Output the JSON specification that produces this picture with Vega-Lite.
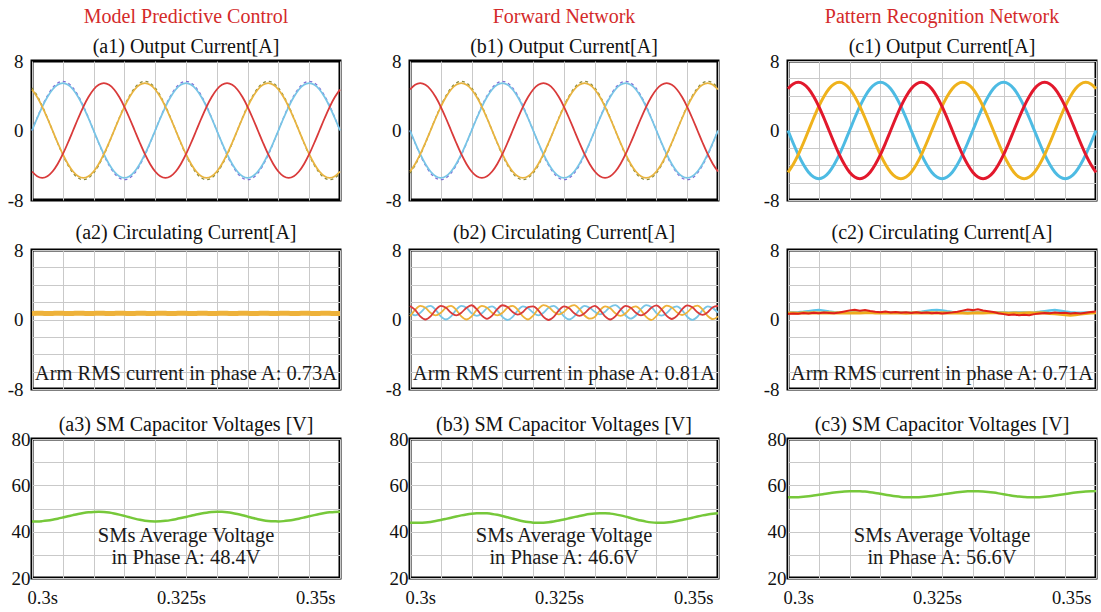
{
"$schema": "https://vega.github.io/schema/vega-lite/v6.json",
"background": "white",
"columns": 3,
"spacing": {"row": 50, "column": 70},
"bounds": "flush",
"align": "each",
"datasets": {
"d": [
{"t":0.3,"aB":0,"aR":-4.72,"aY":4.72,"bR":4.72,"bY":-4.72,"bB":0,"cR":4.81,"cY":-4.81,"cB":0,"a2R":0.73,"a2B":0.68,"a2Y":0.70,"b2R":1.56,"b2B":0.78,"b2Y":0.36,"c2R":0.62,"c2B":0.80,"c2Y":0.74,"va":44.42,"vb":43.82,"vc":54.81},
{"t":0.300833,"aB":1.41,"aR":-5.26,"aY":3.85,"bR":5.26,"bY":-3.85,"bB":-1.41,"cR":5.36,"cY":-3.92,"cB":-1.44,"a2R":0.71,"a2B":0.69,"a2Y":0.72,"b2R":1.11,"b2B":0.48,"b2Y":1.11,"c2R":0.70,"c2B":0.82,"c2Y":0.76,"va":44.42,"vb":43.82,"vc":54.81},
{"t":0.301667,"aB":2.73,"aR":-5.45,"aY":2.73,"bR":5.45,"bY":-2.73,"bB":-2.73,"cR":5.55,"cY":-2.78,"cB":-2.78,"a2R":0.72,"a2B":0.67,"a2Y":0.71,"b2R":0.36,"b2B":0.78,"b2Y":1.56,"c2R":0.66,"c2B":0.84,"c2Y":0.73,"va":44.55,"vb":43.82,"vc":54.90},
{"t":0.3025,"aB":3.85,"aR":-5.26,"aY":1.41,"bR":5.26,"bY":-1.41,"bB":-3.85,"cR":5.36,"cY":-1.44,"cB":-3.92,"a2R":0.74,"a2B":0.68,"a2Y":0.69,"b2R":0.00,"b2B":1.35,"b2Y":1.35,"c2R":0.74,"c2B":0.88,"c2Y":0.77,"va":44.80,"vb":43.95,"vc":55.06},
{"t":0.303333,"aB":4.72,"aR":-4.72,"aY":0,"bR":4.72,"bY":0,"bB":-4.72,"cR":4.81,"cY":0,"cB":-4.81,"a2R":0.72,"a2B":0.70,"a2Y":0.70,"b2R":0.36,"b2B":1.56,"b2Y":0.78,"c2R":0.70,"c2B":0.96,"c2Y":0.75,"va":45.16,"vb":44.20,"vc":55.29},
{"t":0.304167,"aB":5.26,"aR":-3.85,"aY":-1.41,"bR":3.85,"bY":1.41,"bB":-5.26,"cR":3.92,"cY":1.44,"cB":-5.36,"a2R":0.70,"a2B":0.68,"a2Y":0.73,"b2R":1.11,"b2B":1.11,"b2Y":0.48,"c2R":0.78,"c2B":1.05,"c2Y":0.78,"va":45.61,"vb":44.56,"vc":55.58},
{"t":0.305,"aB":5.45,"aR":-2.73,"aY":-2.73,"bR":2.73,"bY":2.73,"bB":-5.45,"cR":2.78,"cY":2.78,"cB":-5.55,"a2R":0.73,"a2B":0.67,"a2Y":0.71,"b2R":1.56,"b2B":0.36,"b2Y":0.78,"c2R":0.72,"c2B":1.08,"c2Y":0.74,"va":46.11,"vb":45.01,"vc":55.90},
{"t":0.305833,"aB":5.26,"aR":-1.41,"aY":-3.85,"bR":1.41,"bY":3.85,"bB":-5.26,"cR":1.44,"cY":3.92,"cB":-5.36,"a2R":0.72,"a2B":0.69,"a2Y":0.68,"b2R":1.35,"b2B":0.00,"b2Y":1.35,"c2R":0.80,"c2B":1.02,"c2Y":0.76,"va":46.63,"vb":45.51,"vc":56.23},
{"t":0.306667,"aB":4.72,"aR":0,"aY":-4.72,"bR":0,"bY":4.72,"bB":-4.72,"cR":0,"cY":4.81,"cB":-4.81,"a2R":0.73,"a2B":0.68,"a2Y":0.70,"b2R":0.78,"b2B":0.36,"b2Y":1.56,"c2R":0.76,"c2B":0.92,"c2Y":0.79,"va":47.15,"vb":46.03,"vc":56.57},
{"t":0.3075,"aB":3.85,"aR":1.41,"aY":-5.26,"bR":-1.41,"bY":5.26,"bB":-3.85,"cR":-1.44,"cY":5.36,"cB":-3.92,"a2R":0.71,"a2B":0.69,"a2Y":0.72,"b2R":0.48,"b2B":1.11,"b2Y":1.11,"c2R":0.71,"c2B":0.84,"c2Y":0.75,"va":47.63,"vb":46.55,"vc":56.88},
{"t":0.308333,"aB":2.73,"aR":2.73,"aY":-5.45,"bR":-2.73,"bY":5.45,"bB":-2.73,"cR":-2.78,"cY":5.55,"cB":-2.78,"a2R":0.72,"a2B":0.67,"a2Y":0.71,"b2R":0.78,"b2B":1.56,"b2Y":0.36,"c2R":0.80,"c2B":0.80,"c2Y":0.77,"va":48.03,"vb":47.03,"vc":57.13},
{"t":0.309167,"aB":1.41,"aR":3.85,"aY":-5.26,"bR":-3.85,"bY":5.26,"bB":-1.41,"cR":-3.92,"cY":5.36,"cB":-1.44,"a2R":0.74,"a2B":0.68,"a2Y":0.69,"b2R":1.35,"b2B":1.35,"b2Y":0.00,"c2R":0.92,"c2B":0.78,"c2Y":0.74,"va":48.34,"vb":47.43,"vc":57.33},
{"t":0.31,"aB":0,"aR":4.72,"aY":-4.72,"bR":-4.72,"bY":4.72,"bB":0,"cR":-4.81,"cY":4.81,"cB":0,"a2R":0.72,"a2B":0.70,"a2Y":0.70,"b2R":1.64,"b2B":0.72,"b2Y":0.36,"c2R":1.05,"c2B":0.80,"c2Y":0.76,"va":48.53,"vb":47.74,"vc":57.46},
{"t":0.310833,"aB":-1.41,"aR":5.26,"aY":-3.85,"bR":-5.26,"bY":3.85,"bB":1.41,"cR":-5.36,"cY":3.92,"cB":1.44,"a2R":0.70,"a2B":0.68,"a2Y":0.73,"b2R":1.19,"b2B":0.42,"b2Y":1.11,"c2R":1.12,"c2B":0.82,"c2Y":0.78,"va":48.60,"vb":47.93,"vc":57.50},
{"t":0.311667,"aB":-2.73,"aR":5.45,"aY":-2.73,"bR":-5.45,"bY":2.73,"bB":2.73,"cR":-5.55,"cY":2.78,"cB":2.78,"a2R":0.73,"a2B":0.67,"a2Y":0.71,"b2R":0.44,"b2B":0.72,"b2Y":1.56,"c2R":1.02,"c2B":0.80,"c2Y":0.75,"va":48.51,"vb":48.00,"vc":57.44},
{"t":0.3125,"aB":-3.85,"aR":5.26,"aY":-1.41,"bR":-5.26,"bY":1.41,"bB":3.85,"cR":-5.36,"cY":1.44,"cB":3.92,"a2R":0.72,"a2B":0.69,"a2Y":0.68,"b2R":0.08,"b2B":1.29,"b2Y":1.35,"c2R":1.10,"c2B":0.78,"c2Y":0.77,"va":48.27,"vb":47.91,"vc":57.29},
{"t":0.313333,"aB":-4.72,"aR":4.72,"aY":0,"bR":-4.72,"bY":0,"bB":4.72,"cR":-4.81,"cY":0,"cB":4.81,"a2R":0.73,"a2B":0.68,"a2Y":0.70,"b2R":0.44,"b2B":1.50,"b2Y":0.78,"c2R":0.98,"c2B":0.80,"c2Y":0.80,"va":47.87,"vb":47.67,"vc":57.03},
{"t":0.314167,"aB":-5.26,"aR":3.85,"aY":1.41,"bR":-3.85,"bY":-1.41,"bB":5.26,"cR":-3.92,"cY":-1.44,"cB":5.36,"a2R":0.71,"a2B":0.69,"a2Y":0.72,"b2R":1.19,"b2B":1.05,"b2Y":0.48,"c2R":0.90,"c2B":0.82,"c2Y":0.76,"va":47.37,"vb":47.27,"vc":56.71},
{"t":0.315,"aB":-5.45,"aR":2.73,"aY":2.73,"bR":-2.73,"bY":-2.73,"bB":5.45,"cR":-2.78,"cY":-2.78,"cB":5.55,"a2R":0.72,"a2B":0.67,"a2Y":0.71,"b2R":1.64,"b2B":0.30,"b2Y":0.78,"c2R":0.84,"c2B":0.80,"c2Y":0.74,"va":46.80,"vb":46.77,"vc":56.34},
{"t":0.315833,"aB":-5.26,"aR":1.41,"aY":3.85,"bR":-1.41,"bY":-3.85,"bB":5.26,"cR":-1.44,"cY":-3.92,"cB":5.36,"a2R":0.74,"a2B":0.68,"a2Y":0.69,"b2R":1.43,"b2B":-0.06,"b2Y":1.35,"c2R":0.92,"c2B":0.78,"c2Y":0.77,"va":46.20,"vb":46.20,"vc":55.96},
{"t":0.316667,"aB":-4.72,"aR":0,"aY":4.72,"bR":0,"bY":-4.72,"bB":4.72,"cR":0,"cY":-4.81,"cB":4.81,"a2R":0.72,"a2B":0.70,"a2Y":0.70,"b2R":0.86,"b2B":0.30,"b2Y":1.56,"c2R":0.80,"c2B":0.80,"c2Y":0.75,"va":45.63,"vb":45.60,"vc":55.59},
{"t":0.3175,"aB":-3.85,"aR":-1.41,"aY":5.26,"bR":1.41,"bY":-5.26,"bB":3.85,"cR":1.44,"cY":-5.36,"cB":3.92,"a2R":0.70,"a2B":0.68,"a2Y":0.73,"b2R":0.56,"b2B":1.05,"b2Y":1.11,"c2R":0.86,"c2B":0.82,"c2Y":0.78,"va":45.13,"vb":45.03,"vc":55.27},
{"t":0.318333,"aB":-2.73,"aR":-2.73,"aY":5.45,"bR":2.73,"bY":-5.45,"bB":2.73,"cR":2.78,"cY":-5.55,"cB":2.78,"a2R":0.73,"a2B":0.67,"a2Y":0.71,"b2R":0.86,"b2B":1.50,"b2Y":0.36,"c2R":0.78,"c2B":0.80,"c2Y":0.76,"va":44.73,"vb":44.53,"vc":55.01},
{"t":0.319167,"aB":-1.41,"aR":-3.85,"aY":5.26,"bR":3.85,"bY":-5.26,"bB":1.41,"cR":3.92,"cY":-5.36,"cB":1.44,"a2R":0.72,"a2B":0.69,"a2Y":0.68,"b2R":1.43,"b2B":1.29,"b2Y":0.00,"c2R":0.84,"c2B":0.78,"c2Y":0.73,"va":44.49,"vb":44.13,"vc":54.86},
{"t":0.32,"aB":0,"aR":-4.72,"aY":4.72,"bR":4.72,"bY":-4.72,"bB":0,"cR":4.81,"cY":-4.81,"cB":0,"a2R":0.73,"a2B":0.68,"a2Y":0.70,"b2R":1.50,"b2B":0.78,"b2Y":0.46,"c2R":0.76,"c2B":0.80,"c2Y":0.75,"va":44.42,"vb":43.89,"vc":54.81},
{"t":0.320833,"aB":1.41,"aR":-5.26,"aY":3.85,"bR":5.26,"bY":-3.85,"bB":-1.41,"cR":5.36,"cY":-3.92,"cB":-1.44,"a2R":0.71,"a2B":0.69,"a2Y":0.72,"b2R":1.05,"b2B":0.48,"b2Y":1.21,"c2R":0.82,"c2B":0.84,"c2Y":0.77,"va":44.49,"vb":43.82,"vc":54.86},
{"t":0.321667,"aB":2.73,"aR":-5.45,"aY":2.73,"bR":5.45,"bY":-2.73,"bB":-2.73,"cR":5.55,"cY":-2.78,"cB":-2.78,"a2R":0.72,"a2B":0.67,"a2Y":0.71,"b2R":0.30,"b2B":0.78,"b2Y":1.66,"c2R":0.74,"c2B":0.90,"c2Y":0.74,"va":44.68,"vb":43.89,"vc":54.98},
{"t":0.3225,"aB":3.85,"aR":-5.26,"aY":1.41,"bR":5.26,"bY":-1.41,"bB":-3.85,"cR":5.36,"cY":-1.44,"cB":-3.92,"a2R":0.74,"a2B":0.68,"a2Y":0.69,"b2R":-0.06,"b2B":1.35,"b2Y":1.45,"c2R":0.80,"c2B":0.98,"c2Y":0.76,"va":44.98,"vb":44.08,"vc":55.17},
{"t":0.323333,"aB":4.72,"aR":-4.72,"aY":0,"bR":4.72,"bY":0,"bB":-4.72,"cR":4.81,"cY":0,"cB":-4.81,"a2R":0.72,"a2B":0.70,"a2Y":0.70,"b2R":0.30,"b2B":1.56,"b2Y":0.88,"c2R":0.72,"c2B":1.06,"c2Y":0.79,"va":45.39,"vb":44.38,"vc":55.44},
{"t":0.324167,"aB":5.26,"aR":-3.85,"aY":-1.41,"bR":3.85,"bY":1.41,"bB":-5.26,"cR":3.92,"cY":1.44,"cB":-5.36,"a2R":0.70,"a2B":0.68,"a2Y":0.73,"b2R":1.05,"b2B":1.11,"b2Y":0.58,"c2R":0.78,"c2B":1.10,"c2Y":0.75,"va":45.86,"vb":44.79,"vc":55.74},
{"t":0.325,"aB":5.45,"aR":-2.73,"aY":-2.73,"bR":2.73,"bY":2.73,"bB":-5.45,"cR":2.78,"cY":2.78,"cB":-5.55,"a2R":0.73,"a2B":0.67,"a2Y":0.71,"b2R":1.50,"b2B":0.36,"b2Y":0.88,"c2R":0.70,"c2B":1.04,"c2Y":0.77,"va":46.37,"vb":45.26,"vc":56.07},
{"t":0.325833,"aB":5.26,"aR":-1.41,"aY":-3.85,"bR":1.41,"bY":3.85,"bB":-5.26,"cR":1.44,"cY":3.92,"cB":-5.36,"a2R":0.72,"a2B":0.69,"a2Y":0.68,"b2R":1.29,"b2B":0.00,"b2Y":1.45,"c2R":0.76,"c2B":0.94,"c2Y":0.74,"va":46.89,"vb":45.77,"vc":56.40},
{"t":0.326667,"aB":4.72,"aR":0,"aY":-4.72,"bR":0,"bY":4.72,"bB":-4.72,"cR":0,"cY":4.81,"cB":-4.81,"a2R":0.73,"a2B":0.68,"a2Y":0.70,"b2R":0.72,"b2B":0.36,"b2Y":1.66,"c2R":0.82,"c2B":0.86,"c2Y":0.76,"va":47.39,"vb":46.29,"vc":56.72},
{"t":0.3275,"aB":3.85,"aR":1.41,"aY":-5.26,"bR":-1.41,"bY":5.26,"bB":-3.85,"cR":-1.44,"cY":5.36,"cB":-3.92,"a2R":0.71,"a2B":0.69,"a2Y":0.72,"b2R":0.42,"b2B":1.11,"b2Y":1.21,"c2R":0.90,"c2B":0.82,"c2Y":0.78,"va":47.83,"vb":46.79,"vc":57.01},
{"t":0.328333,"aB":2.73,"aR":2.73,"aY":-5.45,"bR":-2.73,"bY":5.45,"bB":-2.73,"cR":-2.78,"cY":5.55,"cB":-2.78,"a2R":0.72,"a2B":0.67,"a2Y":0.71,"b2R":0.72,"b2B":1.56,"b2Y":0.46,"c2R":1.02,"c2B":0.80,"c2Y":0.75,"va":48.19,"vb":47.23,"vc":57.24},
{"t":0.329167,"aB":1.41,"aR":3.85,"aY":-5.26,"bR":-3.85,"bY":5.26,"bB":-1.41,"cR":-3.92,"cY":5.36,"cB":-1.44,"a2R":0.74,"a2B":0.68,"a2Y":0.69,"b2R":1.29,"b2B":1.35,"b2Y":0.10,"c2R":1.15,"c2B":0.78,"c2Y":0.73,"va":48.44,"vb":47.59,"vc":57.40},
{"t":0.33,"aB":0,"aR":4.72,"aY":-4.72,"bR":-4.72,"bY":4.72,"bB":0,"cR":-4.81,"cY":4.81,"cB":0,"a2R":0.72,"a2B":0.70,"a2Y":0.70,"b2R":1.56,"b2B":0.88,"b2Y":0.30,"c2R":1.08,"c2B":0.80,"c2Y":0.76,"va":48.57,"vb":47.84,"vc":57.48},
{"t":0.330833,"aB":-1.41,"aR":5.26,"aY":-3.85,"bR":-5.26,"bY":3.85,"bB":1.41,"cR":-5.36,"cY":3.92,"cB":1.44,"a2R":0.70,"a2B":0.68,"a2Y":0.73,"b2R":1.11,"b2B":0.58,"b2Y":1.05,"c2R":1.18,"c2B":0.82,"c2Y":0.78,"va":48.56,"vb":47.97,"vc":57.47},
{"t":0.331667,"aB":-2.73,"aR":5.45,"aY":-2.73,"bR":-5.45,"bY":2.73,"bB":2.73,"cR":-5.55,"cY":2.78,"cB":2.78,"a2R":0.73,"a2B":0.67,"a2Y":0.71,"b2R":0.36,"b2B":0.88,"b2Y":1.50,"c2R":1.04,"c2B":0.80,"c2Y":0.75,"va":48.39,"vb":47.96,"vc":57.37},
{"t":0.3325,"aB":-3.85,"aR":5.26,"aY":-1.41,"bR":-5.26,"bY":1.41,"bB":3.85,"cR":-5.36,"cY":1.44,"cB":3.92,"a2R":0.72,"a2B":0.69,"a2Y":0.68,"b2R":0.00,"b2B":1.45,"b2Y":1.29,"c2R":0.95,"c2B":0.78,"c2Y":0.77,"va":48.07,"vb":47.79,"vc":57.16},
{"t":0.333333,"aB":-4.72,"aR":4.72,"aY":0,"bR":-4.72,"bY":0,"bB":4.72,"cR":-4.81,"cY":0,"cB":4.81,"a2R":0.73,"a2B":0.68,"a2Y":0.70,"b2R":0.36,"b2B":1.66,"b2Y":0.72,"c2R":0.86,"c2B":0.80,"c2Y":0.80,"va":47.62,"vb":47.47,"vc":56.87},
{"t":0.334167,"aB":-5.26,"aR":3.85,"aY":1.41,"bR":-3.85,"bY":-1.41,"bB":5.26,"cR":-3.92,"cY":-1.44,"cB":5.36,"a2R":0.71,"a2B":0.69,"a2Y":0.72,"b2R":1.11,"b2B":1.21,"b2Y":0.42,"c2R":0.72,"c2B":0.82,"c2Y":0.76,"va":47.09,"vb":47.02,"vc":56.53},
{"t":0.335,"aB":-5.45,"aR":2.73,"aY":2.73,"bR":-2.73,"bY":-2.73,"bB":5.45,"cR":-2.78,"cY":-2.78,"cB":5.55,"a2R":0.72,"a2B":0.67,"a2Y":0.71,"b2R":1.56,"b2B":0.46,"b2Y":0.72,"c2R":0.62,"c2B":0.80,"c2Y":0.74,"va":46.50,"vb":46.49,"vc":56.15},
{"t":0.335833,"aB":-5.26,"aR":1.41,"aY":3.85,"bR":-1.41,"bY":-3.85,"bB":5.26,"cR":-1.44,"cY":-3.92,"cB":5.36,"a2R":0.74,"a2B":0.68,"a2Y":0.69,"b2R":1.35,"b2B":0.10,"b2Y":1.29,"c2R":0.52,"c2B":0.78,"c2Y":0.72,"va":45.92,"vb":45.90,"vc":55.78},
{"t":0.336667,"aB":-4.72,"aR":0,"aY":4.72,"bR":0,"bY":-4.72,"bB":4.72,"cR":0,"cY":-4.81,"cB":4.81,"a2R":0.72,"a2B":0.70,"a2Y":0.70,"b2R":0.78,"b2B":0.46,"b2Y":1.50,"c2R":0.58,"c2B":0.80,"c2Y":0.75,"va":45.38,"vb":45.32,"vc":55.43},
{"t":0.3375,"aB":-3.85,"aR":-1.41,"aY":5.26,"bR":1.41,"bY":-5.26,"bB":3.85,"cR":1.44,"cY":-5.36,"cB":3.92,"a2R":0.70,"a2B":0.68,"a2Y":0.73,"b2R":0.48,"b2B":1.21,"b2Y":1.05,"c2R":0.48,"c2B":0.82,"c2Y":0.73,"va":44.93,"vb":44.78,"vc":55.14},
{"t":0.338333,"aB":-2.73,"aR":-2.73,"aY":5.45,"bR":2.73,"bY":-5.45,"bB":2.73,"cR":2.78,"cY":-5.55,"cB":2.78,"a2R":0.73,"a2B":0.67,"a2Y":0.71,"b2R":0.78,"b2B":1.66,"b2Y":0.30,"c2R":0.56,"c2B":0.80,"c2Y":0.76,"va":44.61,"vb":44.33,"vc":54.94},
{"t":0.339167,"aB":-1.41,"aR":-3.85,"aY":5.26,"bR":3.85,"bY":-5.26,"bB":1.41,"cR":3.92,"cY":-5.36,"cB":1.44,"a2R":0.72,"a2B":0.69,"a2Y":0.68,"b2R":1.35,"b2B":1.45,"b2Y":-0.06,"c2R":0.50,"c2B":0.78,"c2Y":0.78,"va":44.45,"vb":44.01,"vc":54.83},
{"t":0.34,"aB":0,"aR":-4.72,"aY":4.72,"bR":4.72,"bY":-4.72,"bB":0,"cR":4.81,"cY":-4.81,"cB":0,"a2R":0.73,"a2B":0.68,"a2Y":0.70,"b2R":1.62,"b2B":0.74,"b2Y":0.40,"c2R":0.62,"c2B":0.82,"c2Y":0.75,"va":44.44,"vb":43.85,"vc":54.83},
{"t":0.340833,"aB":1.41,"aR":-5.26,"aY":3.85,"bR":5.26,"bY":-3.85,"bB":-1.41,"cR":5.36,"cY":-3.92,"cB":-1.44,"a2R":0.71,"a2B":0.69,"a2Y":0.72,"b2R":1.17,"b2B":0.44,"b2Y":1.15,"c2R":0.70,"c2B":0.88,"c2Y":0.77,"va":44.55,"vb":43.84,"vc":54.90},
{"t":0.341667,"aB":2.73,"aR":-5.45,"aY":2.73,"bR":5.45,"bY":-2.73,"bB":-2.73,"cR":5.55,"cY":-2.78,"cB":-2.78,"a2R":0.72,"a2B":0.67,"a2Y":0.71,"b2R":0.42,"b2B":0.74,"b2Y":1.60,"c2R":0.76,"c2B":0.96,"c2Y":0.74,"va":44.80,"vb":43.95,"vc":55.06},
{"t":0.3425,"aB":3.85,"aR":-5.26,"aY":1.41,"bR":5.26,"bY":-1.41,"bB":-3.85,"cR":5.36,"cY":-1.44,"cB":-3.92,"a2R":0.74,"a2B":0.68,"a2Y":0.69,"b2R":0.06,"b2B":1.31,"b2Y":1.39,"c2R":0.72,"c2B":1.04,"c2Y":0.70,"va":45.16,"vb":44.20,"vc":55.29},
{"t":0.343333,"aB":4.72,"aR":-4.72,"aY":0,"bR":4.72,"bY":0,"bB":-4.72,"cR":4.81,"cY":0,"cB":-4.81,"a2R":0.72,"a2B":0.70,"a2Y":0.70,"b2R":0.42,"b2B":1.52,"b2Y":0.82,"c2R":0.80,"c2B":1.08,"c2Y":0.66,"va":45.61,"vb":44.56,"vc":55.58},
{"t":0.344167,"aB":5.26,"aR":-3.85,"aY":-1.41,"bR":3.85,"bY":1.41,"bB":-5.26,"cR":3.92,"cY":1.44,"cB":-5.36,"a2R":0.70,"a2B":0.68,"a2Y":0.73,"b2R":1.17,"b2B":1.07,"b2Y":0.52,"c2R":0.74,"c2B":1.02,"c2Y":0.60,"va":46.11,"vb":45.01,"vc":55.90},
{"t":0.345,"aB":5.45,"aR":-2.73,"aY":-2.73,"bR":2.73,"bY":2.73,"bB":-5.45,"cR":2.78,"cY":2.78,"cB":-5.55,"a2R":0.73,"a2B":0.67,"a2Y":0.71,"b2R":1.62,"b2B":0.32,"b2Y":0.82,"c2R":0.78,"c2B":0.92,"c2Y":0.54,"va":46.63,"vb":45.51,"vc":56.23},
{"t":0.345833,"aB":5.26,"aR":-1.41,"aY":-3.85,"bR":1.41,"bY":3.85,"bB":-5.26,"cR":1.44,"cY":3.92,"cB":-5.36,"a2R":0.72,"a2B":0.69,"a2Y":0.68,"b2R":1.41,"b2B":-0.04,"b2Y":1.39,"c2R":0.68,"c2B":0.84,"c2Y":0.50,"va":47.15,"vb":46.03,"vc":56.57},
{"t":0.346667,"aB":4.72,"aR":0,"aY":-4.72,"bR":0,"bY":4.72,"bB":-4.72,"cR":0,"cY":4.81,"cB":-4.81,"a2R":0.73,"a2B":0.68,"a2Y":0.70,"b2R":0.84,"b2B":0.32,"b2Y":1.60,"c2R":0.74,"c2B":0.80,"c2Y":0.54,"va":47.63,"vb":46.55,"vc":56.88},
{"t":0.3475,"aB":3.85,"aR":1.41,"aY":-5.26,"bR":-1.41,"bY":5.26,"bB":-3.85,"cR":-1.44,"cY":5.36,"cB":-3.92,"a2R":0.71,"a2B":0.69,"a2Y":0.72,"b2R":0.54,"b2B":1.07,"b2Y":1.15,"c2R":0.70,"c2B":0.78,"c2Y":0.62,"va":48.03,"vb":47.03,"vc":57.13},
{"t":0.348333,"aB":2.73,"aR":2.73,"aY":-5.45,"bR":-2.73,"bY":5.45,"bB":-2.73,"cR":-2.78,"cY":5.55,"cB":-2.78,"a2R":0.72,"a2B":0.67,"a2Y":0.71,"b2R":0.84,"b2B":1.52,"b2Y":0.40,"c2R":0.78,"c2B":0.80,"c2Y":0.70,"va":48.34,"vb":47.43,"vc":57.33},
{"t":0.349167,"aB":1.41,"aR":3.85,"aY":-5.26,"bR":-3.85,"bY":5.26,"bB":-1.41,"cR":-3.92,"cY":5.36,"cB":-1.44,"a2R":0.74,"a2B":0.68,"a2Y":0.69,"b2R":1.41,"b2B":1.31,"b2Y":0.04,"c2R":0.86,"c2B":0.82,"c2Y":0.75,"va":48.53,"vb":47.74,"vc":57.46},
{"t":0.35,"aB":0,"aR":4.72,"aY":-4.72,"bR":-4.72,"bY":4.72,"bB":0,"cR":-4.81,"cY":4.81,"cB":0,"a2R":0.72,"a2B":0.70,"a2Y":0.70,"b2R":1.56,"b2B":0.78,"b2Y":0.36,"c2R":0.92,"c2B":0.80,"c2Y":0.78,"va":48.60,"vb":47.93,"vc":57.50}
],
"ann": [
{"p":"a2","t":0.325,"v":-6.3,"s":"Arm RMS current in phase A: 0.73A"},
{"p":"b2","t":0.325,"v":-6.3,"s":"Arm RMS current in phase A: 0.81A"},
{"p":"c2","t":0.325,"v":-6.3,"s":"Arm RMS current in phase A: 0.71A"},
{"p":"a3","t":0.325,"v":38,"s":"SMs Average Voltage"},
{"p":"a3","t":0.325,"v":28.6,"s":"in Phase A: 48.4V"},
{"p":"b3","t":0.325,"v":38,"s":"SMs Average Voltage"},
{"p":"b3","t":0.325,"v":28.6,"s":"in Phase A: 46.6V"},
{"p":"c3","t":0.325,"v":38,"s":"SMs Average Voltage"},
{"p":"c3","t":0.325,"v":28.6,"s":"in Phase A: 56.6V"}
]
},
"concat": [
{"width":308,"height":139,"data":{"name":"d"},
 "title":{"text":"Model Predictive Control","subtitle":"(a1) Output Current[A]","color":"#d42a2a","subtitlePadding":10,"offset":-4.5},
 "encoding":{"x":{"field":"t","type":"quantitative","scale":{"domain":[0.3,0.35],"nice":false,"zero":false},"axis":{"values":[0.3,0.305,0.31,0.315,0.32,0.325,0.33,0.335,0.34,0.345,0.35],"labels":false,"title":null}}},
 "resolve":{"scale":{"y":"independent"}},
 "layer":[
  {"layer":[
   {"mark":{"type":"line","color":"#7f6fd6","strokeWidth":1.3,"strokeDash":[3,3],"interpolate":"monotone"},"encoding":{"y":{"field":"aB","type":"quantitative","scale":{"domain":[-7.7,7.7],"nice":false,"zero":false},"axis":null}}},
   {"mark":{"type":"line","color":"#8c8a3a","strokeWidth":1.3,"strokeDash":[3,3],"interpolate":"monotone"},"encoding":{"y":{"field":"aY","type":"quantitative","scale":{"domain":[-7.7,7.7],"nice":false,"zero":false},"axis":null}}}
  ]},
  {"layer":[
   {"mark":{"type":"line","color":"#78c5e6","strokeWidth":1.8,"interpolate":"monotone"},"encoding":{"y":{"field":"aB","type":"quantitative","scale":{"domain":[-8,8],"nice":false,"zero":false},"axis":{"values":[-8,-6,-4,-2,0,2,4,6,8],"labelExpr":"datum.value==8?'8':datum.value==0?'0':datum.value==-8?'-8':''","labelPadding":9,"title":null}}}},
   {"mark":{"type":"line","color":"#e8b440","strokeWidth":1.8,"interpolate":"monotone"},"encoding":{"y":{"field":"aY","type":"quantitative","scale":{"domain":[-8,8],"nice":false,"zero":false},"axis":{"values":[-8,-6,-4,-2,0,2,4,6,8],"labelExpr":"datum.value==8?'8':datum.value==0?'0':datum.value==-8?'-8':''","labelPadding":9,"title":null}}}},
   {"mark":{"type":"line","color":"#d93a3a","strokeWidth":1.8,"interpolate":"monotone"},"encoding":{"y":{"field":"aR","type":"quantitative","scale":{"domain":[-8,8],"nice":false,"zero":false},"axis":{"values":[-8,-6,-4,-2,0,2,4,6,8],"labelExpr":"datum.value==8?'8':datum.value==0?'0':datum.value==-8?'-8':''","labelPadding":9,"title":null}}}}
  ]}
 ]},
{"width":308,"height":139,"data":{"name":"d"},
 "title":{"text":"Forward Network","subtitle":"(b1) Output Current[A]","color":"#d42a2a","subtitlePadding":10,"offset":-4.5},
 "encoding":{"x":{"field":"t","type":"quantitative","scale":{"domain":[0.3,0.35],"nice":false,"zero":false},"axis":{"values":[0.3,0.305,0.31,0.315,0.32,0.325,0.33,0.335,0.34,0.345,0.35],"labels":false,"title":null}}},
 "resolve":{"scale":{"y":"independent"}},
 "layer":[
  {"layer":[
   {"mark":{"type":"line","color":"#7f6fd6","strokeWidth":1.3,"strokeDash":[3,3],"interpolate":"monotone"},"encoding":{"y":{"field":"bB","type":"quantitative","scale":{"domain":[-7.7,7.7],"nice":false,"zero":false},"axis":null}}},
   {"mark":{"type":"line","color":"#8c8a3a","strokeWidth":1.3,"strokeDash":[3,3],"interpolate":"monotone"},"encoding":{"y":{"field":"bY","type":"quantitative","scale":{"domain":[-7.7,7.7],"nice":false,"zero":false},"axis":null}}}
  ]},
  {"layer":[
   {"mark":{"type":"line","color":"#78c5e6","strokeWidth":1.8,"interpolate":"monotone"},"encoding":{"y":{"field":"bB","type":"quantitative","scale":{"domain":[-8,8],"nice":false,"zero":false},"axis":{"values":[-8,-6,-4,-2,0,2,4,6,8],"labelExpr":"datum.value==8?'8':datum.value==0?'0':datum.value==-8?'-8':''","labelPadding":9,"title":null}}}},
   {"mark":{"type":"line","color":"#e8b440","strokeWidth":1.8,"interpolate":"monotone"},"encoding":{"y":{"field":"bY","type":"quantitative","scale":{"domain":[-8,8],"nice":false,"zero":false},"axis":{"values":[-8,-6,-4,-2,0,2,4,6,8],"labelExpr":"datum.value==8?'8':datum.value==0?'0':datum.value==-8?'-8':''","labelPadding":9,"title":null}}}},
   {"mark":{"type":"line","color":"#d93a3a","strokeWidth":1.8,"interpolate":"monotone"},"encoding":{"y":{"field":"bR","type":"quantitative","scale":{"domain":[-8,8],"nice":false,"zero":false},"axis":{"values":[-8,-6,-4,-2,0,2,4,6,8],"labelExpr":"datum.value==8?'8':datum.value==0?'0':datum.value==-8?'-8':''","labelPadding":9,"title":null}}}}
  ]}
 ]},
{"width":308,"height":139,"data":{"name":"d"},
 "title":{"text":"Pattern Recognition Network","subtitle":"(c1) Output Current[A]","color":"#d42a2a","subtitlePadding":10,"offset":-4.5},
 "encoding":{"x":{"field":"t","type":"quantitative","scale":{"domain":[0.3,0.35],"nice":false,"zero":false},"axis":{"values":[0.3,0.305,0.31,0.315,0.32,0.325,0.33,0.335,0.34,0.345,0.35],"labels":false,"title":null}}},
 "layer":[
  {"mark":{"type":"line","color":"#4dbbe3","strokeWidth":3,"interpolate":"monotone"},"encoding":{"y":{"field":"cB","type":"quantitative","scale":{"domain":[-8,8],"nice":false,"zero":false},"axis":{"values":[-8,-6,-4,-2,0,2,4,6,8],"labelExpr":"datum.value==8?'8':datum.value==0?'0':datum.value==-8?'-8':''","labelPadding":9,"title":null}}}},
  {"mark":{"type":"line","color":"#efb21c","strokeWidth":3,"interpolate":"monotone"},"encoding":{"y":{"field":"cY","type":"quantitative","scale":{"domain":[-8,8],"nice":false,"zero":false},"axis":{"values":[-8,-6,-4,-2,0,2,4,6,8],"labelExpr":"datum.value==8?'8':datum.value==0?'0':datum.value==-8?'-8':''","labelPadding":9,"title":null}}}},
  {"mark":{"type":"line","color":"#e2182c","strokeWidth":3,"interpolate":"monotone"},"encoding":{"y":{"field":"cR","type":"quantitative","scale":{"domain":[-8,8],"nice":false,"zero":false},"axis":{"values":[-8,-6,-4,-2,0,2,4,6,8],"labelExpr":"datum.value==8?'8':datum.value==0?'0':datum.value==-8?'-8':''","labelPadding":9,"title":null}}}}
 ]},
{"width":308,"height":139,
 "title":{"text":"(a2) Circulating Current[A]","offset":-1.5},
 "encoding":{"x":{"field":"t","type":"quantitative","scale":{"domain":[0.3,0.35],"nice":false,"zero":false},"axis":{"values":[0.3,0.305,0.31,0.315,0.32,0.325,0.33,0.335,0.34,0.345,0.35],"labels":false,"title":null}}},
 "layer":[
  {"data":{"name":"d"},"mark":{"type":"line","color":"#78c5e6","strokeWidth":3,"interpolate":"monotone"},"encoding":{"y":{"field":"a2B","type":"quantitative","scale":{"domain":[-8,8],"nice":false,"zero":false},"axis":{"values":[-8,-6,-4,-2,0,2,4,6,8],"labelExpr":"datum.value==8?'8':datum.value==0?'0':datum.value==-8?'-8':''","labelPadding":9,"title":null}}}},
  {"data":{"name":"d"},"mark":{"type":"line","color":"#d93a3a","strokeWidth":3,"interpolate":"monotone"},"encoding":{"y":{"field":"a2R","type":"quantitative","scale":{"domain":[-8,8],"nice":false,"zero":false},"axis":{"values":[-8,-6,-4,-2,0,2,4,6,8],"labelExpr":"datum.value==8?'8':datum.value==0?'0':datum.value==-8?'-8':''","labelPadding":9,"title":null}}}},
  {"data":{"name":"d"},"mark":{"type":"line","color":"#eeb23a","strokeWidth":5,"interpolate":"monotone"},"encoding":{"y":{"field":"a2Y","type":"quantitative","scale":{"domain":[-8,8],"nice":false,"zero":false},"axis":{"values":[-8,-6,-4,-2,0,2,4,6,8],"labelExpr":"datum.value==8?'8':datum.value==0?'0':datum.value==-8?'-8':''","labelPadding":9,"title":null}}}},
  {"data":{"name":"ann"},"transform":[{"filter":"datum.p=='a2'"}],"mark":{"type":"text","font":"Liberation Serif","fontSize":20.5,"color":"#1a1a1a"},"encoding":{"y":{"field":"v","type":"quantitative","scale":{"domain":[-8,8],"nice":false,"zero":false},"axis":{"values":[-8,-6,-4,-2,0,2,4,6,8],"labelExpr":"datum.value==8?'8':datum.value==0?'0':datum.value==-8?'-8':''","labelPadding":9,"title":null}},"text":{"field":"s"}}}
 ]},
{"width":308,"height":139,
 "title":{"text":"(b2) Circulating Current[A]","offset":-1.5},
 "encoding":{"x":{"field":"t","type":"quantitative","scale":{"domain":[0.3,0.35],"nice":false,"zero":false},"axis":{"values":[0.3,0.305,0.31,0.315,0.32,0.325,0.33,0.335,0.34,0.345,0.35],"labels":false,"title":null}}},
 "layer":[
  {"data":{"name":"d"},"mark":{"type":"line","color":"#78c5e6","strokeWidth":1.8,"interpolate":"monotone"},"encoding":{"y":{"field":"b2B","type":"quantitative","scale":{"domain":[-8,8],"nice":false,"zero":false},"axis":{"values":[-8,-6,-4,-2,0,2,4,6,8],"labelExpr":"datum.value==8?'8':datum.value==0?'0':datum.value==-8?'-8':''","labelPadding":9,"title":null}}}},
  {"data":{"name":"d"},"mark":{"type":"line","color":"#eeb23a","strokeWidth":1.8,"interpolate":"monotone"},"encoding":{"y":{"field":"b2Y","type":"quantitative","scale":{"domain":[-8,8],"nice":false,"zero":false},"axis":{"values":[-8,-6,-4,-2,0,2,4,6,8],"labelExpr":"datum.value==8?'8':datum.value==0?'0':datum.value==-8?'-8':''","labelPadding":9,"title":null}}}},
  {"data":{"name":"d"},"mark":{"type":"line","color":"#d93a3a","strokeWidth":1.8,"interpolate":"monotone"},"encoding":{"y":{"field":"b2R","type":"quantitative","scale":{"domain":[-8,8],"nice":false,"zero":false},"axis":{"values":[-8,-6,-4,-2,0,2,4,6,8],"labelExpr":"datum.value==8?'8':datum.value==0?'0':datum.value==-8?'-8':''","labelPadding":9,"title":null}}}},
  {"data":{"name":"ann"},"transform":[{"filter":"datum.p=='b2'"}],"mark":{"type":"text","font":"Liberation Serif","fontSize":20.5,"color":"#1a1a1a"},"encoding":{"y":{"field":"v","type":"quantitative","scale":{"domain":[-8,8],"nice":false,"zero":false},"axis":{"values":[-8,-6,-4,-2,0,2,4,6,8],"labelExpr":"datum.value==8?'8':datum.value==0?'0':datum.value==-8?'-8':''","labelPadding":9,"title":null}},"text":{"field":"s"}}}
 ]},
{"width":308,"height":139,
 "title":{"text":"(c2) Circulating Current[A]","offset":-1.5},
 "encoding":{"x":{"field":"t","type":"quantitative","scale":{"domain":[0.3,0.35],"nice":false,"zero":false},"axis":{"values":[0.3,0.305,0.31,0.315,0.32,0.325,0.33,0.335,0.34,0.345,0.35],"labels":false,"title":null}}},
 "layer":[
  {"data":{"name":"d"},"mark":{"type":"line","color":"#5bc3e8","strokeWidth":2.5},"encoding":{"y":{"field":"c2B","type":"quantitative","scale":{"domain":[-8,8],"nice":false,"zero":false},"axis":{"values":[-8,-6,-4,-2,0,2,4,6,8],"labelExpr":"datum.value==8?'8':datum.value==0?'0':datum.value==-8?'-8':''","labelPadding":9,"title":null}}}},
  {"data":{"name":"d"},"mark":{"type":"line","color":"#efaa1c","strokeWidth":3},"encoding":{"y":{"field":"c2Y","type":"quantitative","scale":{"domain":[-8,8],"nice":false,"zero":false},"axis":{"values":[-8,-6,-4,-2,0,2,4,6,8],"labelExpr":"datum.value==8?'8':datum.value==0?'0':datum.value==-8?'-8':''","labelPadding":9,"title":null}}}},
  {"data":{"name":"d"},"mark":{"type":"line","color":"#e0201a","strokeWidth":2},"encoding":{"y":{"field":"c2R","type":"quantitative","scale":{"domain":[-8,8],"nice":false,"zero":false},"axis":{"values":[-8,-6,-4,-2,0,2,4,6,8],"labelExpr":"datum.value==8?'8':datum.value==0?'0':datum.value==-8?'-8':''","labelPadding":9,"title":null}}}},
  {"data":{"name":"ann"},"transform":[{"filter":"datum.p=='c2'"}],"mark":{"type":"text","font":"Liberation Serif","fontSize":20.5,"color":"#1a1a1a"},"encoding":{"y":{"field":"v","type":"quantitative","scale":{"domain":[-8,8],"nice":false,"zero":false},"axis":{"values":[-8,-6,-4,-2,0,2,4,6,8],"labelExpr":"datum.value==8?'8':datum.value==0?'0':datum.value==-8?'-8':''","labelPadding":9,"title":null}},"text":{"field":"s"}}}
 ]},
{"width":308,"height":139,
 "title":{"text":"(a3) SM Capacitor Voltages [V]","offset":-5},
 "encoding":{"x":{"field":"t","type":"quantitative","scale":{"domain":[0.3,0.35],"nice":false,"zero":false},"axis":{"values":[0.3,0.305,0.31,0.315,0.32,0.325,0.33,0.335,0.34,0.345,0.35],"labels":true,"labelExpr":"abs(datum.value-0.3)<1e-6?'0.3s':abs(datum.value-0.325)<1e-6?'0.325s':abs(datum.value-0.35)<1e-6?'0.35s':''","labelFlush":true,"labelOffset":-5,"labelPadding":10,"labelFontSize":18.5,"title":null}}},
 "layer":[
  {"data":{"name":"d"},"mark":{"type":"line","color":"#76c83a","strokeWidth":2.5,"interpolate":"monotone"},"encoding":{"y":{"field":"va","type":"quantitative","scale":{"domain":[20,80],"nice":false,"zero":false},"axis":{"values":[20,30,40,50,60,70,80],"labelExpr":"datum.value%20==0?datum.label:''","labelPadding":2,"title":null}}}},
  {"data":{"name":"ann"},"transform":[{"filter":"datum.p=='a3'"}],"mark":{"type":"text","font":"Liberation Serif","fontSize":20.5,"color":"#1a1a1a"},"encoding":{"y":{"field":"v","type":"quantitative","scale":{"domain":[20,80],"nice":false,"zero":false},"axis":{"values":[20,30,40,50,60,70,80],"labelExpr":"datum.value%20==0?datum.label:''","labelPadding":2,"title":null}},"text":{"field":"s"}}}
 ]},
{"width":308,"height":139,
 "title":{"text":"(b3) SM Capacitor Voltages [V]","offset":-5},
 "encoding":{"x":{"field":"t","type":"quantitative","scale":{"domain":[0.3,0.35],"nice":false,"zero":false},"axis":{"values":[0.3,0.305,0.31,0.315,0.32,0.325,0.33,0.335,0.34,0.345,0.35],"labels":true,"labelExpr":"abs(datum.value-0.3)<1e-6?'0.3s':abs(datum.value-0.325)<1e-6?'0.325s':abs(datum.value-0.35)<1e-6?'0.35s':''","labelFlush":true,"labelOffset":-5,"labelPadding":10,"labelFontSize":18.5,"title":null}}},
 "layer":[
  {"data":{"name":"d"},"mark":{"type":"line","color":"#76c83a","strokeWidth":2.5,"interpolate":"monotone"},"encoding":{"y":{"field":"vb","type":"quantitative","scale":{"domain":[20,80],"nice":false,"zero":false},"axis":{"values":[20,30,40,50,60,70,80],"labelExpr":"datum.value%20==0?datum.label:''","labelPadding":2,"title":null}}}},
  {"data":{"name":"ann"},"transform":[{"filter":"datum.p=='b3'"}],"mark":{"type":"text","font":"Liberation Serif","fontSize":20.5,"color":"#1a1a1a"},"encoding":{"y":{"field":"v","type":"quantitative","scale":{"domain":[20,80],"nice":false,"zero":false},"axis":{"values":[20,30,40,50,60,70,80],"labelExpr":"datum.value%20==0?datum.label:''","labelPadding":2,"title":null}},"text":{"field":"s"}}}
 ]},
{"width":308,"height":139,
 "title":{"text":"(c3) SM Capacitor Voltages [V]","offset":-5},
 "encoding":{"x":{"field":"t","type":"quantitative","scale":{"domain":[0.3,0.35],"nice":false,"zero":false},"axis":{"values":[0.3,0.305,0.31,0.315,0.32,0.325,0.33,0.335,0.34,0.345,0.35],"labels":true,"labelExpr":"abs(datum.value-0.3)<1e-6?'0.3s':abs(datum.value-0.325)<1e-6?'0.325s':abs(datum.value-0.35)<1e-6?'0.35s':''","labelFlush":true,"labelOffset":-5,"labelPadding":10,"labelFontSize":18.5,"title":null}}},
 "layer":[
  {"data":{"name":"d"},"mark":{"type":"line","color":"#76c83a","strokeWidth":2.5,"interpolate":"monotone"},"encoding":{"y":{"field":"vc","type":"quantitative","scale":{"domain":[20,80],"nice":false,"zero":false},"axis":{"values":[20,30,40,50,60,70,80],"labelExpr":"datum.value%20==0?datum.label:''","labelPadding":2,"title":null}}}},
  {"data":{"name":"ann"},"transform":[{"filter":"datum.p=='c3'"}],"mark":{"type":"text","font":"Liberation Serif","fontSize":20.5,"color":"#1a1a1a"},"encoding":{"y":{"field":"v","type":"quantitative","scale":{"domain":[20,80],"nice":false,"zero":false},"axis":{"values":[20,30,40,50,60,70,80],"labelExpr":"datum.value%20==0?datum.label:''","labelPadding":2,"title":null}},"text":{"field":"s"}}}
 ]}
],
"config": {
 "font": "Liberation Serif",
 "view": {"stroke": "#000000", "strokeWidth": 3},
 "axis": {"grid": true, "gridColor": "#c9c9c9", "gridWidth": 1, "domain": false, "ticks": false, "labelFont": "Liberation Serif", "labelFontSize": 19, "labelColor": "#111111", "labelOverlap": false, "labelBound": false},
 "title": {"font": "Liberation Serif", "fontSize": 20, "fontWeight": "normal", "color": "#111111", "subtitleFont": "Liberation Serif", "subtitleFontSize": 20, "subtitleColor": "#111111", "anchor": "middle", "frame": "group"}
}
}
